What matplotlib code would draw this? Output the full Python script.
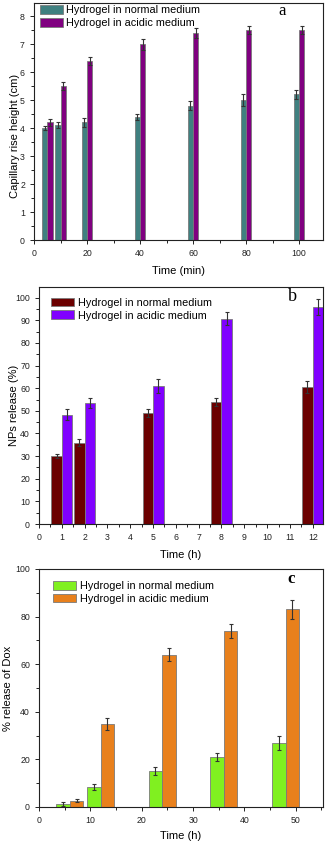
import matplotlib
matplotlib.use("Agg")
import matplotlib.pyplot as plt
from matplotlib.ticker import MultipleLocator
import numpy as np

plt.rcParams['font.family'] = ['Liberation Sans', 'DejaVu Sans']

# Panel a
a_time = [5, 10, 20, 40, 60, 80, 100]
a_normal = [4.0, 4.1, 4.2, 4.4, 4.8, 5.0, 5.2]
a_normal_err = [0.07, 0.1, 0.15, 0.1, 0.15, 0.2, 0.15]
a_acidic = [4.2, 5.5, 6.4, 7.0, 7.4, 7.5, 7.5]
a_acidic_err = [0.12, 0.15, 0.15, 0.2, 0.18, 0.15, 0.15]

# Panel b
b_time = [1, 2, 5, 8, 12]
b_normal = [30, 36, 49, 54, 60.5]
b_normal_err = [1.0, 1.5, 1.7, 1.7, 2.5]
b_acidic = [48.3, 53.3, 61, 90.7, 95.8]
b_acidic_err = [2.3, 2.2, 3.2, 3.0, 3.5]

# Panel c
c_time = [6, 12, 24, 36, 48]
c_normal = [1.2, 8.3, 15, 21, 27]
c_normal_err = [0.7, 1.3, 1.7, 1.7, 3.0]
c_acidic = [2.7, 35, 64, 74, 83]
c_acidic_err = [0.8, 2.5, 2.7, 2.8, 4.0]

labels = ["Hydrogel in normal medium", "Hydrogel in acidic medium"]

W, H = 326, 844
fig = plt.figure(figsize=(W / 100, H / 100), dpi=100)


def make_ax(left, right, top, bottom):
    return fig.add_axes([left / W, 1 - bottom / H, (right - left) / W, (bottom - top) / H])


def style(ax):
    ax.tick_params(which='both', direction='out', top=False, right=False,
                   labelsize=6.3, colors='#222222', width=0.7)
    ax.tick_params(which='major', length=3)
    ax.tick_params(which='minor', length=2)
    for s in ax.spines.values():
        s.set_linewidth(0.8)
        s.set_color('#222222')


def draw(ax, t, n, ne, a, ae, w, cn, ca):
    t = np.asarray(t, dtype=float)
    ekw = dict(ecolor='#333333', elinewidth=0.8, capsize=1.5, capthick=0.8)
    ax.bar(t - w / 2, n, w, yerr=ne, color=cn, edgecolor='#7a7a7a', linewidth=0.6,
           error_kw=ekw, label=labels[0])
    ax.bar(t + w / 2, a, w, yerr=ae, color=ca, edgecolor='#7a7a7a', linewidth=0.6,
           error_kw=ekw, label=labels[1])


def legend(ax, loc):
    ax.legend(loc='upper left', bbox_to_anchor=loc, frameon=False, fontsize=7.8,
              handlelength=2.1, handleheight=0.85, handletextpad=0.35,
              labelspacing=0.25, borderpad=0, borderaxespad=0)


# ---- a ----
ax = make_ax(34, 323, 3, 240)
draw(ax, a_time, a_normal, a_normal_err, a_acidic, a_acidic_err, 2.0, '#3f8080', '#800080')
ax.set_xlim(0, 109)
ax.set_ylim(0, 8.47)
ax.xaxis.set_major_locator(MultipleLocator(20))
ax.xaxis.set_minor_locator(MultipleLocator(10))
ax.yaxis.set_major_locator(MultipleLocator(1))
ax.yaxis.set_minor_locator(MultipleLocator(0.5))
style(ax)
ax.set_xlabel('Time (min)', fontsize=8)
ax.set_ylabel('Capillary rise height (cm)', fontsize=8)
ax.yaxis.set_label_coords(-0.05, 0.44)
ax.xaxis.set_label_coords(0.5, -0.11)
legend(ax, (0.02, 0.99))
ax.text(0.86, 0.998, 'a', transform=ax.transAxes, fontsize=12,
        family='Liberation Serif', ha='center', va='top')

# ---- b ----
ax = make_ax(39, 323, 287, 524)
draw(ax, b_time, b_normal, b_normal_err, b_acidic, b_acidic_err, 0.46, '#6b0000', '#8000ff')
ax.set_xlim(0, 12.45)
ax.set_ylim(0, 104.7)
ax.xaxis.set_major_locator(MultipleLocator(1))
ax.xaxis.set_minor_locator(MultipleLocator(0.5))
ax.yaxis.set_major_locator(MultipleLocator(10))
ax.yaxis.set_minor_locator(MultipleLocator(5))
style(ax)
ax.set_xlabel('Time (h)', fontsize=8)
ax.set_ylabel('NPs release (%)', fontsize=8)
ax.yaxis.set_label_coords(-0.07, 0.5)
ax.xaxis.set_label_coords(0.5, -0.11)
legend(ax, (0.043, 0.955))
ax.text(0.894, 0.995, 'b', transform=ax.transAxes, fontsize=13,
        family='Liberation Serif', ha='center', va='top')

# ---- c ----
ax = make_ax(39, 323, 569, 807)
draw(ax, c_time, c_normal, c_normal_err, c_acidic, c_acidic_err, 2.65, '#80f020', '#e8801c')
ax.set_xlim(0, 55.3)
ax.set_ylim(0, 100)
ax.xaxis.set_major_locator(MultipleLocator(10))
ax.xaxis.set_minor_locator(MultipleLocator(5))
ax.yaxis.set_major_locator(MultipleLocator(20))
ax.yaxis.set_minor_locator(MultipleLocator(10))
style(ax)
ax.set_xlabel('Time (h)', fontsize=8)
ax.set_ylabel('% release of Dox', fontsize=8)
ax.yaxis.set_label_coords(-0.092, 0.5)
ax.xaxis.set_label_coords(0.5, -0.1)
legend(ax, (0.05, 0.95))
ax.text(0.889, 0.99, 'c', transform=ax.transAxes, fontsize=12, weight='bold',
        family='Liberation Serif', ha='center', va='top')

fig.savefig('out.png', dpi=100)
